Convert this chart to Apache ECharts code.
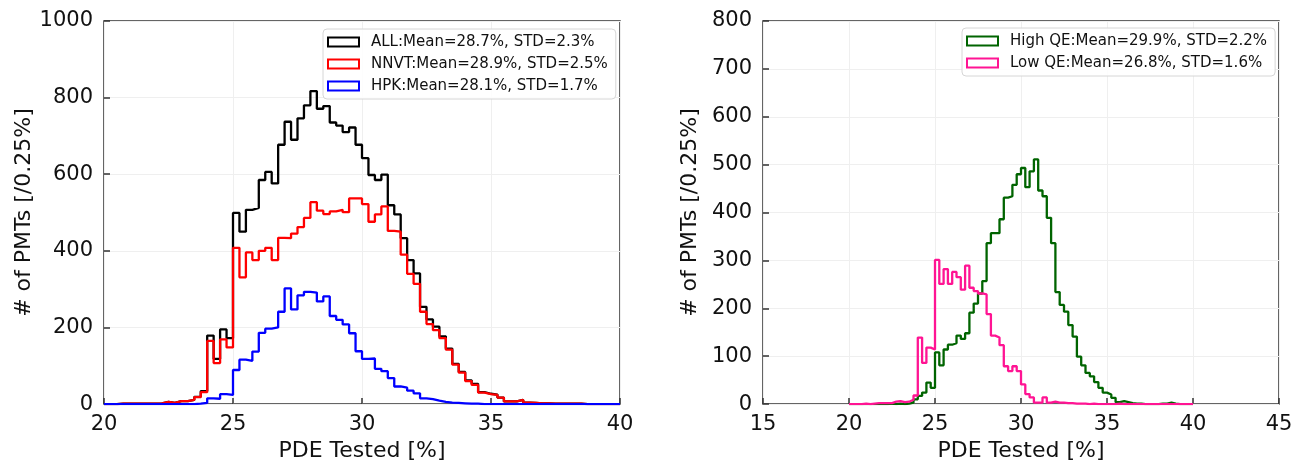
<!DOCTYPE html>
<html>
<head>
<meta charset="utf-8">
<script src="https://cdn.jsdelivr.net/npm/echarts@6/dist/echarts.min.js"></script>
<style>
html,body{margin:0;padding:0;background:#fff;}
#chart{width:1302px;height:467px;}
</style>
</head>
<body>
<div id="chart"></div>
<script>
// Histogram bins: left edges start at 20%, width 0.25%, 80 bins (20 - 40)
const binStart = 20;
const binWidth = 0.25;

// Left panel
const leftNames = ['ALL:Mean=28.7%, STD=2.3%', 'NNVT:Mean=28.9%, STD=2.5%', 'HPK:Mean=28.1%, STD=1.7%'];
const allCounts = [
  0,0,1,1,1,1,1,1,           // 20.00-21.75
  2,6,3,8,8,11,19,34,        // 22.00-23.75
  179,118,195,172,           // 24.00-24.75
  499,450,507,512,585,606,576,677,   // 25.00-26.75
  737,690,746,780,817,771,778,735,   // 27.00-28.75
  727,710,722,677,642,598,585,599,   // 29.00-30.75
  519,495,433,376,341,254,221,202,   // 31.00-32.75
  177,145,105,84,62,53,31,27,        // 33.00-34.75
  25,17,7,7,11,4,3,2,                // 35.00-36.75
  2,1,1,1,1,1,0,0,                   // 37.00-38.75
  0,0,0,0                            // 39.00-39.75
];
const nnvtCounts = [
  0,0,1,1,1,1,1,1,
  2,6,3,8,8,11,18,31,
  165,107,169,148,
  408,331,396,376,400,408,376,434,
  433,445,462,486,527,505,496,503,
  507,501,537,537,522,476,495,516,
  452,450,390,340,314,241,209,193,
  172,142,103,82,60,50,30,26,
  24,17,7,7,11,4,3,2,
  2,1,1,1,1,1,0,0,
  0,0,0,0
];
const hpkCounts = [
  0,0,0,0,0,0,0,0,
  0,0,0,0,0,0,1,3,
  15,14,26,24,
  89,116,113,137,186,197,200,241,
  302,247,284,293,291,268,281,230,
  220,208,185,138,118,119,92,86,
  68,46,43,35,28,15,13,9,
  6,4,3,2,1,1,0,0,
  0,0,0,0,0,0,0,0,
  0,0,0,0,0,0,0,0,
  0,0,0,0
];

// Right panel
const rightNames = ['High QE:Mean=29.9%, STD=2.2%', 'Low QE:Mean=26.8%, STD=1.6%'];
const highQECounts = [
  0,0,0,0,0,0,0,0,
  0,1,0,1,0,1,3,10,
  17,24,45,34,
  108,81,114,124,127,143,136,148,
  191,210,231,257,336,357,357,386,
  431,434,458,480,493,453,486,511,
  446,434,389,336,234,207,193,165,
  141,99,81,65,58,46,34,24,
  20,13,4,6,4,2,1,1,
  0,0,0,0,1,1,3,1,
  0,0,0,0
];
const lowQECounts = [
  0,0,0,1,0,1,2,2,
  2,2,5,6,4,5,9,18,
  139,86,118,114,
  301,251,282,251,276,265,239,289,
  243,236,231,229,188,143,139,123,
  79,69,79,69,41,21,14,3,
  3,14,3,5,3,3,2,2,
  1,1,1,0,1,0,0,0,
  0,0,1,0,0,0,0,0,
  0,0,0,0,0,0,0,0,
  0,0,0,0
];

const leftColors = ['#000000', '#ff0000', '#0000ff'];
const rightColors = ['#006400', '#ff1493'];

function stepPoints(values) {
  const pts = [[binStart, 0]];
  values.forEach((v, i) => pts.push([binStart + i * binWidth, v]));
  const end = binStart + values.length * binWidth;
  pts.push([end, values[values.length - 1]]);
  pts.push([end, 0]);
  return pts;
}

const FONT = 'DejaVu Sans';
const frameColor = '#333333';

function xAxisCfg(gridIndex, min, max) {
  return {
    type: 'value', gridIndex, min, max, interval: 5,
    name: 'PDE Tested [%]', nameLocation: 'middle', nameGap: 33,
    nameTextStyle: { fontFamily: FONT, fontSize: 22, color: '#111' },
    axisLine: { show: false },
    axisTick: { show: true, inside: true, length: 6, lineStyle: { color: frameColor, width: 1.5 } },
    axisLabel: { fontFamily: FONT, fontSize: 21, color: '#111', margin: 10, formatter: v => String(v) },
    splitLine: { show: true, lineStyle: { color: '#efefef', width: 1 } }
  };
}
function yAxisCfg(gridIndex, max, interval, nameGap) {
  return {
    type: 'value', gridIndex, min: 0, max, interval,
    name: '# of PMTs [/0.25%]', nameLocation: 'middle', nameGap,
    nameTextStyle: { fontFamily: FONT, fontSize: 22, color: '#111' },
    axisLine: { show: false },
    axisTick: { show: true, inside: true, length: 6, lineStyle: { color: frameColor, width: 1.5 } },
    axisLabel: { fontFamily: FONT, fontSize: 21, color: '#111', margin: 11, formatter: v => String(v) },
    splitLine: { show: true, lineStyle: { color: '#efefef', width: 1 } }
  };
}

function legendCfg(names, left, top) {
  return {
    orient: 'vertical', left, top,
    data: names.map(n => ({ name: n, icon: 'emptyRect' })),
    itemWidth: 31, itemHeight: 9, itemGap: 4,
    selectedMode: false,
    textStyle: { fontFamily: FONT, fontSize: 15, color: '#111', lineHeight: 18, padding: [0, 0, 0, 7] },
    backgroundColor: 'rgba(255,255,255,0.85)', borderColor: '#d6d6d6', borderWidth: 1, borderRadius: 4,
    padding: [4, 8, 4, 4]
  };
}

const series = [];
[allCounts, nnvtCounts, hpkCounts].forEach((vals, i) => {
  series.push({
    name: leftNames[i], type: 'line', step: 'end', xAxisIndex: 0, yAxisIndex: 0,
    data: stepPoints(vals), showSymbol: false, symbol: 'none',
    color: leftColors[i], lineStyle: { width: 2.3, color: leftColors[i] }, animation: false
  });
});
[highQECounts, lowQECounts].forEach((vals, i) => {
  series.push({
    name: rightNames[i], type: 'line', step: 'end', xAxisIndex: 1, yAxisIndex: 1,
    data: stepPoints(vals), showSymbol: false, symbol: 'none',
    color: rightColors[i], lineStyle: { width: 2.3, color: rightColors[i] }, animation: false
  });
});

const chart = echarts.init(document.getElementById('chart'), null, { renderer: 'canvas' });
chart.setOption({
  animation: false,
  backgroundColor: '#ffffff',
  grid: [
    { left: 104, right: 682, top: 21, bottom: 59, show: true, borderColor: frameColor, borderWidth: 1.5, backgroundColor: 'transparent' },
    { left: 763, right: 23, top: 21, bottom: 59, show: true, borderColor: frameColor, borderWidth: 1.5, backgroundColor: 'transparent' }
  ],
  xAxis: [xAxisCfg(0, 20, 40), xAxisCfg(1, 15, 45)],
  yAxis: [yAxisCfg(0, 1000, 200, 69), yAxisCfg(1, 800, 100, 62)],
  legend: [legendCfg(leftNames, 323, 29), legendCfg(rightNames, 962, 28)],
  series
});
</script>
</body>
</html>
